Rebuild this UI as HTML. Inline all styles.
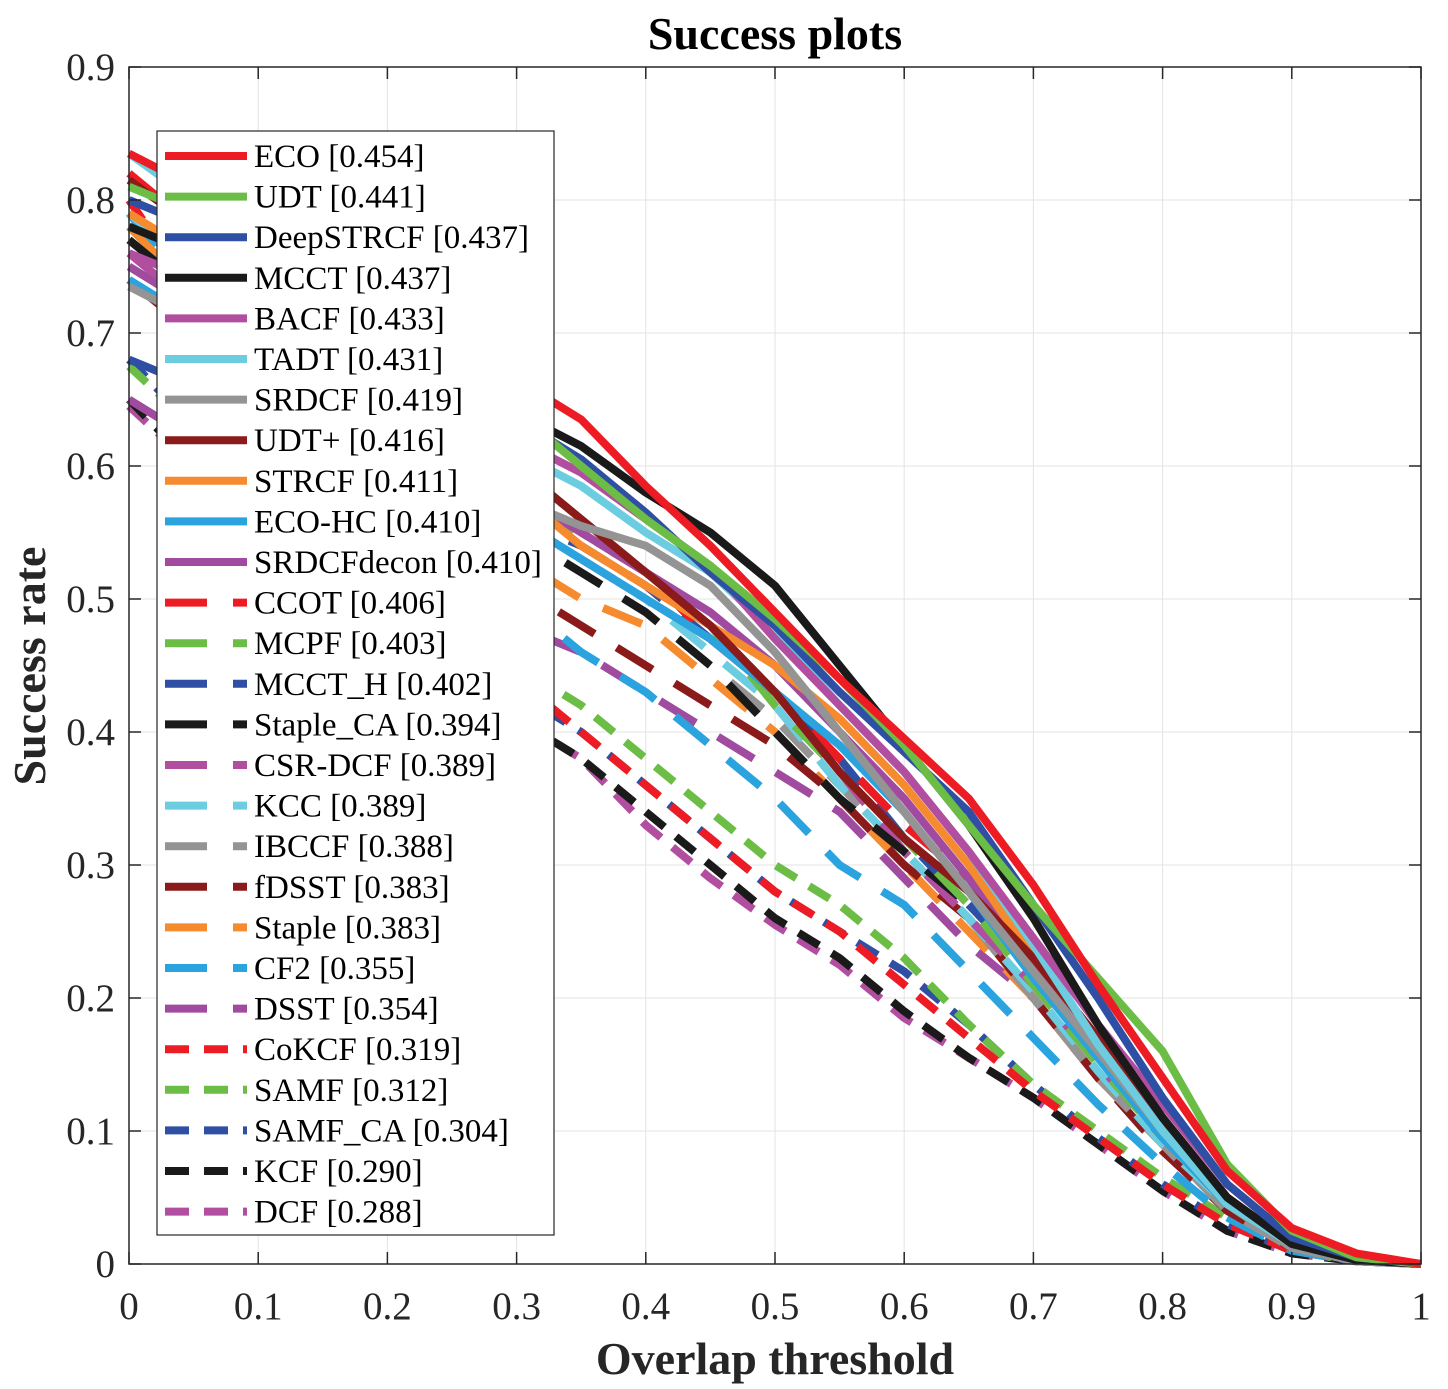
<!DOCTYPE html>
<html><head><meta charset="utf-8"><style>
body{margin:0;background:#fff;}
svg text{font-family:"Liberation Serif",serif;}
</style></head><body>
<svg id="chart" width="1448" height="1384" xmlns="http://www.w3.org/2000/svg">
<rect width="1448" height="1384" fill="#fff"/>
<g id="grid"></g>
<g id="series"></g>
<rect x="129" y="67" width="1292" height="1197" fill="none" stroke="#262626" stroke-width="1.5"/>
<g id="ticks"></g>
<text x="775" y="49" text-anchor="middle" font-size="46" font-weight="bold" fill="#000">Success plots</text>
<text x="775" y="1374" text-anchor="middle" font-size="46" font-weight="bold" fill="#262626">Overlap threshold</text>
<text transform="translate(45,666) rotate(-90)" text-anchor="middle" font-size="46" font-weight="bold" fill="#262626">Success rate</text>
<g id="legend"></g>
</svg>
<script>
const thresholds=[0,0.05,0.1,0.15,0.2,0.25,0.3,0.35,0.4,0.45,0.5,0.55,0.6,0.65,0.7,0.75,0.8,0.85,0.9,0.95,1];
const xTicks=[0,0.1,0.2,0.3,0.4,0.5,0.6,0.7,0.8,0.9,1];
const yTicks=[0,0.1,0.2,0.3,0.4,0.5,0.6,0.7,0.8,0.9];
const names=["ECO [0.454]","UDT [0.441]","DeepSTRCF [0.437]","MCCT [0.437]","BACF [0.433]","TADT [0.431]","SRDCF [0.419]","UDT+ [0.416]","STRCF [0.411]","ECO-HC [0.410]","SRDCFdecon [0.410]","CCOT [0.406]","MCPF [0.403]","MCCT_H [0.402]","Staple_CA [0.394]","CSR-DCF [0.389]","KCC [0.389]","IBCCF [0.388]","fDSST [0.383]","Staple [0.383]","CF2 [0.355]","DSST [0.354]","CoKCF [0.319]","SAMF [0.312]","SAMF_CA [0.304]","KCF [0.290]","DCF [0.288]"];
const colors=["#ed1c24","#6cbd45","#2e4fa3","#1a1a1a","#b24ea0","#6ccde0","#949494","#8b1a1a","#f58a2e","#2aa3de","#a04ba0","#ed1c24","#6cbd45","#2e4fa3","#1a1a1a","#b24ea0","#6ccde0","#949494","#8b1a1a","#f58a2e","#2aa3de","#a04ba0","#ed1c24","#6cbd45","#2e4fa3","#1a1a1a","#b24ea0"];
const sECO=[.835,.81,.78,.75,.72,.69,.665,.635,.585,.54,.49,.44,.395,.35,.285,.21,.14,.07,.027,.008,0];
const sUDT=[.81,.79,.76,.73,.70,.67,.64,.60,.56,.525,.485,.44,.39,.33,.27,.215,.16,.075,.025,.005,0];
const sDeepSTRCF=[.80,.78,.75,.72,.69,.66,.635,.605,.565,.52,.48,.43,.385,.34,.27,.2,.125,.06,.02,.005,0];
const sMCCT=[.78,.76,.73,.70,.68,.66,.64,.615,.58,.55,.51,.45,.39,.33,.26,.18,.11,.05,.015,.003,0];
const sBACF=[.76,.74,.71,.68,.66,.64,.62,.595,.56,.525,.47,.42,.37,.31,.245,.18,.12,.06,.02,.005,0];
const sTADT=[.835,.80,.76,.72,.68,.64,.61,.585,.55,.52,.475,.42,.37,.31,.24,.165,.1,.045,.015,.003,0];
const sSRDCF=[.735,.71,.68,.65,.63,.60,.575,.555,.54,.51,.46,.40,.34,.28,.22,.16,.1,.045,.012,.002,0];
const sUDTp=[.815,.78,.74,.70,.67,.63,.60,.56,.52,.48,.43,.37,.32,.28,.23,.17,.11,.05,.015,.003,0];
const sSTRCF=[.79,.76,.72,.69,.65,.61,.58,.54,.51,.48,.45,.41,.36,.3,.23,.17,.105,.05,.015,.003,0];
const sECOHC=[.74,.71,.68,.65,.62,.59,.56,.53,.50,.47,.43,.39,.34,.28,.215,.155,.095,.045,.013,.003,0];
const sSRDCFdecon=[.75,.72,.69,.66,.63,.60,.58,.55,.52,.49,.45,.40,.35,.29,.225,.16,.1,.045,.013,.003,0];
const sCCOT=[.82,.78,.74,.70,.66,.62,.58,.55,.52,.47,.43,.38,.33,.29,.23,.17,.11,.05,.015,.003,0];
const sMCPF=[.75,.72,.69,.66,.63,.60,.57,.55,.52,.48,.42,.37,.32,.27,.21,.15,.095,.045,.013,.003,0];
const sMCCTH=[.68,.66,.64,.62,.60,.58,.56,.54,.51,.47,.43,.38,.32,.27,.22,.16,.1,.045,.013,.003,0];
const sStapleCA=[.77,.73,.69,.65,.62,.58,.55,.52,.49,.45,.40,.35,.31,.27,.22,.16,.1,.045,.013,.003,0];
const sCSRDCF=[.76,.72,.68,.65,.62,.59,.56,.53,.50,.47,.43,.37,.31,.26,.21,.15,.095,.045,.013,.003,0];
const sKCC=[.79,.75,.71,.67,.63,.59,.56,.53,.50,.46,.42,.36,.31,.26,.205,.145,.09,.045,.013,.003,0];
const sIBCCF=[.77,.73,.69,.65,.62,.58,.55,.52,.49,.45,.41,.36,.31,.26,.2,.14,.09,.04,.012,.003,0];
const sfDSST=[.74,.70,.66,.62,.58,.54,.51,.48,.45,.42,.39,.35,.30,.26,.2,.14,.085,.04,.012,.003,0];
const sStaple=[.78,.73,.68,.64,.60,.56,.53,.50,.48,.44,.40,.35,.30,.25,.2,.14,.09,.04,.012,.003,0];
const sCF2=[.79,.73,.67,.62,.57,.53,.50,.46,.43,.39,.35,.30,.27,.22,.17,.12,.075,.035,.01,.002,0];
const sDSST=[.65,.62,.59,.56,.53,.50,.48,.46,.43,.40,.37,.34,.29,.24,.2,.14,.085,.04,.012,.003,0];
const sCoKCF=[.80,.73,.66,.59,.53,.48,.44,.40,.36,.32,.28,.25,.21,.17,.13,.095,.06,.03,.01,.002,0];
const sSAMF=[.675,.63,.59,.55,.51,.48,.45,.42,.38,.34,.30,.27,.23,.18,.135,.1,.065,.035,.01,.002,0];
const sSAMFCA=[.68,.63,.58,.54,.50,.46,.43,.40,.36,.32,.28,.25,.22,.18,.135,.095,.06,.03,.01,.002,0];
const sKCF=[.65,.60,.56,.52,.48,.44,.41,.38,.34,.30,.26,.23,.19,.155,.125,.09,.055,.025,.008,.002,0];
const sDCF=[.645,.60,.56,.52,.48,.44,.41,.38,.33,.29,.255,.225,.185,.155,.125,.09,.055,.025,.008,.002,0];
const series=[sECO,sUDT,sDeepSTRCF,sMCCT,sBACF,sTADT,sSRDCF,sUDTp,sSTRCF,sECOHC,sSRDCFdecon,sCCOT,sMCPF,sMCCTH,sStapleCA,sCSRDCF,sKCC,sIBCCF,sfDSST,sStaple,sCF2,sDSST,sCoKCF,sSAMF,sSAMFCA,sKCF,sDCF];

const NS="http://www.w3.org/2000/svg";
const X0=129,X1=1421,Y0=1264,Y1=67;
function xs(v){return X0+(X1-X0)*v;}
function ys(v){return Y0-(Y0-Y1)*v/0.9;}
function mk(tag,attrs,parent){const e=document.createElementNS(NS,tag);for(const k in attrs)e.setAttribute(k,attrs[k]);parent.appendChild(e);return e;}
function dashOf(i){return i<11?"none":(i<22?"42 26":"24 15");}

const grid=document.getElementById('grid'),ticks=document.getElementById('ticks');
xTicks.forEach(t=>{
  const l=mk('line',{x1:xs(t),x2:xs(t),y1:Y1,y2:Y0,stroke:'#e3e3e3','stroke-width':1},grid);
  
  
  mk('line',{x1:xs(t),x2:xs(t),y1:Y0,y2:Y0-12,stroke:'#262626','stroke-width':1.5},ticks);
  mk('line',{x1:xs(t),x2:xs(t),y1:Y1,y2:Y1+12,stroke:'#262626','stroke-width':1.5},ticks);
  const tx=mk('text',{x:xs(t),y:1319,'text-anchor':'middle','font-size':39,fill:'#262626'},ticks);
  tx.textContent=String(t);
  
  
});
yTicks.forEach(t=>{
  const l=mk('line',{x1:X0,x2:X1,y1:ys(t),y2:ys(t),stroke:'#e3e3e3','stroke-width':1},grid);
  
  
  mk('line',{x1:X0,x2:X0+12,y1:ys(t),y2:ys(t),stroke:'#262626','stroke-width':1.5},ticks);
  mk('line',{x1:X1,x2:X1-12,y1:ys(t),y2:ys(t),stroke:'#262626','stroke-width':1.5},ticks);
  const tx=mk('text',{x:115,y:ys(t)+13,'text-anchor':'end','font-size':39,fill:'#262626'},ticks);
  tx.textContent=String(t);
  
  
});

const sg=document.getElementById('series');
for(let i=series.length-1;i>=0;i--){
  const d=series[i].map((v,j)=>(j?'L':'M')+xs(thresholds[j]).toFixed(1)+','+ys(v).toFixed(1)).join(' ');
  const p=mk('path',{d:d,fill:'none',stroke:colors[i],'stroke-width':8,'stroke-dasharray':dashOf(i),'stroke-linejoin':'round'},sg);
  
  
}

const lg=document.getElementById('legend');
mk('rect',{x:157,y:131,width:397,height:1104,fill:'#fff',stroke:'#262626','stroke-width':1.2},lg);
names.forEach((n,i)=>{
  const y=156+i*40.6;
  const g=mk('g',{},lg);
  
  
  mk('line',{x1:165,x2:247,y1:y,y2:y,stroke:colors[i],'stroke-width':8,'stroke-dasharray':dashOf(i)},g);
  const t=mk('text',{x:254,y:y+11,'font-size':33,fill:'#000'},g);
  t.textContent=n;
});
</script>
</body></html>
